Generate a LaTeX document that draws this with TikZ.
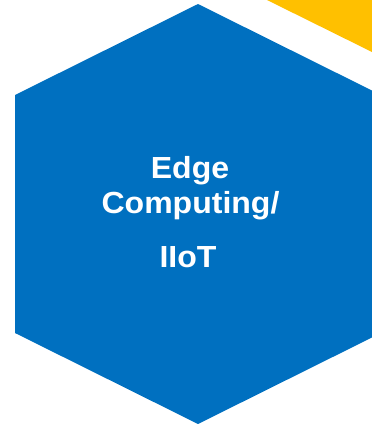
\documentclass[tikz,border=0pt]{standalone}
\usepackage{fontspec}
\setmainfont{Liberation Sans}
\definecolor{hexblue}{HTML}{0070C0}
\definecolor{accentyellow}{HTML}{FFC000}
\newcommand{\widetext}[1]{\scalebox{1.05}[1]{#1}}
\begin{document}
\begin{tikzpicture}[x=1pt,y=-1pt,
  label/.style={text=white,font=\bfseries\fontsize{30.5}{34}\selectfont,anchor=base,inner sep=0pt}]
\useasboundingbox (0,0) rectangle (372,424);
\fill[accentyellow] (267,0) -- (372,0) -- (372,52) -- cycle;
\begin{scope}
\clip (0,0) rectangle (372,424);
\fill[hexblue] (198,4) -- (381,95) -- (381,333) -- (198,424) -- (15,333) -- (15,95) -- cycle;
\end{scope}
\node[label] (l1) at (190,178) {\widetext{Edge}};
\node[label] (l2) at (190.5,213) {\widetext{Computing/}};
\node[label] (l3) at (188,267) {\widetext{IIoT}};
\end{tikzpicture}
\end{document}
